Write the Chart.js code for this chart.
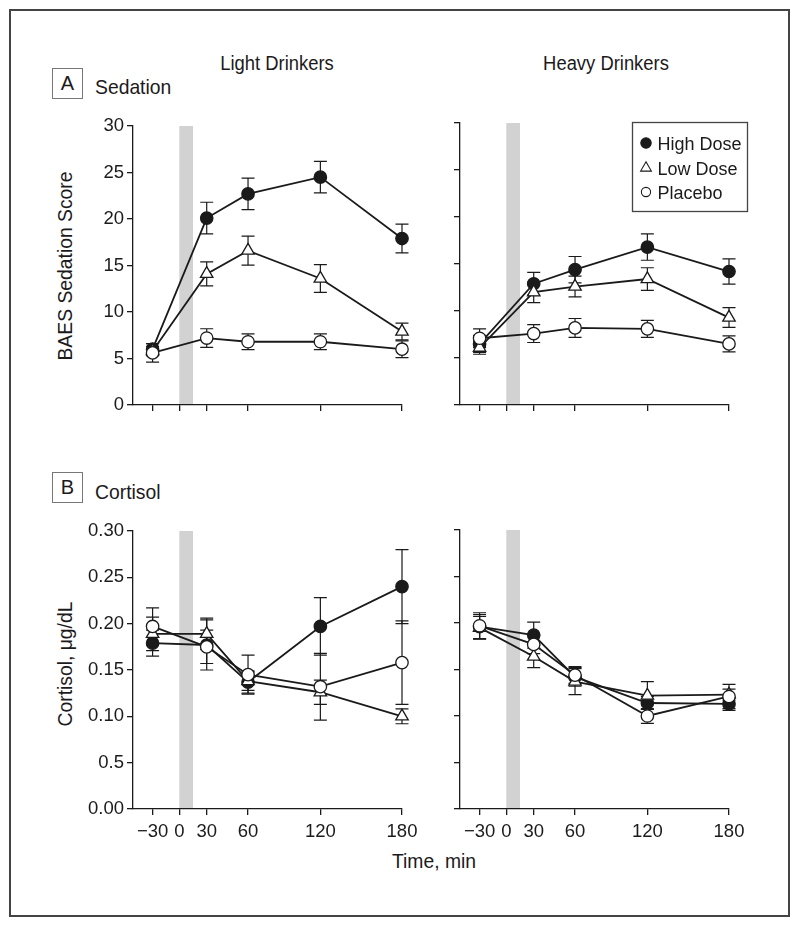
<!DOCTYPE html>
<html>
<head>
<meta charset="utf-8">
<script src="https://cdn.jsdelivr.net/npm/chart.js@4.4.1/dist/chart.umd.min.js"></script>
<style>
  body { margin: 0; background: #fff; width: 800px; height: 927px; position: relative; overflow: hidden;
         font-family: 'Liberation Sans', Arial, sans-serif; color: #1c1a1b; }
  .frame { position: absolute; left: 9px; top: 9px; width: 781px; height: 908px; border: 2px solid #444; box-sizing: border-box; }
  canvas { position: absolute; }
  .lbl { position: absolute; white-space: nowrap; line-height: 1; transform: translate(-50%, -50%) scaleX(0.92); }
  .lbl.left { transform-origin: 0 50%; transform: translate(0, -50%) scaleX(0.92); }
  .lbl.vert { transform: translate(-50%, -50%) rotate(-90deg) scaleX(0.92); }
  .tag { position: absolute; width: 31px; height: 31px; border: 1px solid #777; box-sizing: border-box;
         font-size: 20px; line-height: 29px; text-align: center; }
</style>
</head>
<body>
<div class="frame"></div>

<div class="lbl" style="left:277px;top:63px;font-size:20px">Light Drinkers</div>
<div class="lbl" style="left:606px;top:63px;font-size:20px">Heavy Drinkers</div>
<div class="tag" style="left:52px;top:68px">A</div>
<div class="lbl left" style="left:95px;top:86px;font-size:21px">Sedation</div>
<div class="tag" style="left:52px;top:472px">B</div>
<div class="lbl left" style="left:95px;top:491px;font-size:21px">Cortisol</div>
<div class="lbl vert" style="left:64px;top:266px;font-size:21px">BAES Sedation Score</div>
<div class="lbl vert" style="left:64px;top:664px;font-size:21px">Cortisol, μg/dL</div>
<div class="lbl" style="left:434px;top:860px;font-size:21px">Time, min</div>

<canvas id="sedLight" width="344" height="339" style="left:88px;top:111px"></canvas>
<canvas id="sedHeavy" width="344" height="342" style="left:415px;top:108px"></canvas>
<canvas id="cortLight" width="344" height="338" style="left:88px;top:516px"></canvas>
<canvas id="cortHeavy" width="344" height="339" style="left:415px;top:515px"></canvas>

<script>
// time points (min) and axis ticks
const times = [-30, 30, 60, 120, 180];
const timeTicks = [-30, 0, 30, 60, 120, 180];
const timeTickLabels = ['\u221230', '0', '30', '60', '120', '180'];
const drinkWindow = [0, 15];

const sedTicks = [0, 5, 10, 15, 20, 25, 30];
const sedTickLabels = ['0', '5', '10', '15', '20', '25', '30'];
const cortTicks = [0, 0.05, 0.10, 0.15, 0.20, 0.25, 0.30];
const cortTickLabels = ['0.00', '0.5', '0.10', '0.15', '0.20', '0.25', '0.30'];

const seriesNames = ['High Dose', 'Low Dose', 'Placebo'];

// A, sedation - light drinkers
const sedLightHigh = [6.0, 20.1, 22.7, 24.5, 17.9];
const sedLightHighErr = [0.6, 1.7, 1.7, 1.7, 1.55];
const sedLightLow = [5.8, 14.1, 16.6, 13.6, 7.9];
const sedLightLowErr = [0.5, 1.3, 1.55, 1.5, 0.9];
const sedLightPlacebo = [5.6, 7.2, 6.8, 6.8, 6.0];
const sedLightPlaceboErr = [1.0, 1.0, 0.85, 0.85, 0.9];

// A, sedation - heavy drinkers
const sedHeavyHigh = [6.5, 12.9, 14.4, 16.8, 14.2];
const sedHeavyHighErr = [0.9, 1.2, 1.4, 1.4, 1.35];
const sedHeavyLow = [6.1, 12.0, 12.6, 13.4, 9.3];
const sedHeavyLowErr = [0.7, 1.1, 1.1, 1.2, 1.05];
const sedHeavyPlacebo = [7.1, 7.6, 8.2, 8.1, 6.5];
const sedHeavyPlaceboErr = [1.0, 0.95, 1.0, 0.9, 0.85];

// B, cortisol - light drinkers
const cortLightHigh = [0.179, 0.177, 0.137, 0.197, 0.240];
const cortLightHighErr = [0.014, 0.027, 0.012, 0.031, 0.040];
const cortLightLow = [0.189, 0.189, 0.138, 0.126, 0.100];
const cortLightLowErr = [0.018, 0.017, 0.010, 0.013, 0.008];
const cortLightPlacebo = [0.197, 0.175, 0.145, 0.132, 0.158];
const cortLightPlaceboErr = [0.020, 0.018, 0.021, 0.036, 0.045];

// B, cortisol - heavy drinkers
const cortHeavyHigh = [0.196, 0.187, 0.142, 0.114, 0.113];
const cortHeavyHighErr = [0.013, 0.014, 0.010, 0.007, 0.007];
const cortHeavyLow = [0.195, 0.164, 0.137, 0.122, 0.123];
const cortHeavyLowErr = [0.012, 0.012, 0.014, 0.015, 0.006];
const cortHeavyPlacebo = [0.197, 0.177, 0.144, 0.100, 0.121];
const cortHeavyPlaceboErr = [0.014, 0.010, 0.009, 0.008, 0.013];

const ink = '#1a1a1a';
const fontFamily = "'Liberation Sans', Arial, sans-serif";
Chart.defaults.font.family = fontFamily;
Chart.defaults.color = '#1c1a1b';

// the printed time axis is not proportional to minutes
const axisStops = [-30, 0, 30, 60, 120, 180];
const axisStopPos = [0, 1, 2.026, 3.573, 6.281, 9.337];

function warpTime(t) {
  const n = axisStops.length - 1;
  let i = 1;
  while (i < n && t > axisStops[i]) i++;
  const a = axisStops[i - 1], b = axisStops[i];
  return axisStopPos[i - 1] + (t - a) * (axisStopPos[i] - axisStopPos[i - 1]) / (b - a);
}
function unwarpTime(u) {
  const n = axisStops.length - 1;
  let i = 1;
  while (i < n && u > axisStopPos[i]) i++;
  const a = axisStopPos[i - 1], b = axisStopPos[i];
  return axisStops[i - 1] + (u - a) * (axisStops[i] - axisStops[i - 1]) / (b - a);
}

class TimeWarpScale extends Chart.LinearScale {
  static id = 'timewarp';
  static defaults = Chart.LinearScale.defaults;
  getPixelForValue(value) {
    const a = warpTime(this.min), b = warpTime(this.max);
    return this.getPixelForDecimal((warpTime(value) - a) / (b - a));
  }
  getValueForPixel(pixel) {
    const a = warpTime(this.min), b = warpTime(this.max);
    return unwarpTime(a + this.getDecimalForPixel(pixel) * (b - a));
  }
}
Chart.register(TimeWarpScale);

const styles = {
  'High Dose': { pointStyle: 'circle', pointRadius: 6.2, pointBackgroundColor: ink },
  'Low Dose': { pointStyle: 'triangle', pointRadius: 7.2, pointBackgroundColor: '#fff' },
  'Placebo': { pointStyle: 'circle', pointRadius: 6.2, pointBackgroundColor: '#fff' }
};

function series(label, values, errs) {
  return Object.assign({
    label: label,
    data: times.map((t, i) => ({ x: t, y: values[i] })),
    errors: errs,
    borderColor: ink,
    borderWidth: 1.8,
    pointBorderColor: ink,
    pointBorderWidth: 1.3,
    fill: false,
    tension: 0,
    clip: false
  }, styles[label], { pointHoverRadius: styles[label].pointRadius });
}

// shaded drinking window + error bars
const errorBars = {
  id: 'errorBars',
  beforeDraw(chart) {
    const { ctx, chartArea, scales } = chart;
    const x0 = scales.x.getPixelForValue(drinkWindow[0]);
    const x1 = scales.x.getPixelForValue(drinkWindow[1]);
    ctx.save();
    ctx.fillStyle = '#d2d2d2';
    ctx.fillRect(x0, chartArea.top, x1 - x0, chartArea.bottom - chartArea.top);
    ctx.restore();
  },
  beforeDatasetsDraw(chart) {
    const { ctx, scales } = chart;
    ctx.save();
    ctx.strokeStyle = ink;
    ctx.lineWidth = 1.2;
    chart.data.datasets.forEach(ds => {
      ds.data.forEach((p, i) => {
        const e = ds.errors[i];
        const px = scales.x.getPixelForValue(p.x);
        const top = scales.y.getPixelForValue(p.y + e);
        const bot = scales.y.getPixelForValue(p.y - e);
        ctx.beginPath();
        ctx.moveTo(px, top); ctx.lineTo(px, bot);
        ctx.moveTo(px - 6.5, top); ctx.lineTo(px + 6.5, top);
        ctx.moveTo(px - 6.5, bot); ctx.lineTo(px + 6.5, bot);
        ctx.stroke();
      });
    });
    ctx.restore();
  }
};

function marker(ctx, style, r, x, y) {
  ctx.beginPath();
  if (style === 'triangle') {
    ctx.moveTo(x, y - r);
    ctx.lineTo(x + r * 0.866, y + r * 0.5);
    ctx.lineTo(x - r * 0.866, y + r * 0.5);
    ctx.closePath();
  } else {
    ctx.arc(x, y, r, 0, Math.PI * 2);
  }
  ctx.fill();
  ctx.stroke();
}

// boxed legend in the top right panel
const legendBox = {
  id: 'legendBox',
  afterDraw(chart, args, opts) {
    if (!opts.show) return;
    const { ctx, chartArea } = chart;
    const bx = chartArea.left + 172.5, by = chartArea.top - 0.5, bw = 115, bh = 89;
    const rows = [20.5, 45.5, 69.5];
    const radii = [5.2, 6.2, 4.6];
    ctx.save();
    ctx.fillStyle = '#fff';
    ctx.fillRect(bx, by, bw, bh);
    ctx.strokeStyle = '#444';
    ctx.lineWidth = 1.3;
    ctx.strokeRect(bx, by, bw, bh);
    seriesNames.forEach((name, i) => {
      const st = styles[name];
      ctx.fillStyle = st.pointBackgroundColor;
      ctx.strokeStyle = ink;
      ctx.lineWidth = 1.1;
      marker(ctx, st.pointStyle, radii[i], bx + 13.5, by + rows[i]);
      ctx.fillStyle = '#1c1a1b';
      ctx.font = '18px ' + fontFamily;
      ctx.textBaseline = 'alphabetic';
      ctx.fillText(name, bx + 25, by + rows[i] + 6.5);
    });
    ctx.restore();
  }
};

function panel(id, sets, yMax, yTicks, yLabels, opts) {
  const tickFont = { family: fontFamily, size: 18.5 };
  const axisLine = { display: true, color: ink, width: 1.3 };
  const tickMarks = { drawOnChartArea: false, drawTicks: true, tickLength: 6, color: ink, lineWidth: 1.3 };
  return new Chart(document.getElementById(id), {
    type: 'line',
    data: { datasets: sets },
    options: {
      responsive: false,
      animation: false,
      events: [],
      layout: { padding: { top: 15, right: 30, left: 0, bottom: 0 } },
      plugins: {
        legend: { display: false },
        tooltip: { enabled: false },
        legendBox: { show: !!opts.legend }
      },
      scales: {
        x: {
          type: 'timewarp',
          min: -52,
          max: 180,
          afterBuildTicks: s => { s.ticks = timeTicks.map(v => ({ value: v })); },
          afterFit: s => { s.height = 45; },
          ticks: {
            autoSkip: false, maxRotation: 0, minRotation: 0, padding: 6, font: tickFont,
            callback: (v, i) => opts.xLabels ? timeTickLabels[i] : ''
          },
          grid: tickMarks,
          border: axisLine
        },
        y: {
          type: 'linear',
          min: 0,
          max: yMax,
          afterBuildTicks: s => { s.ticks = yTicks.map(v => ({ value: v })); },
          afterFit: s => { s.width = 45; },
          ticks: {
            padding: 3, font: tickFont,
            callback: (v, i) => opts.yLabels ? yLabels[i] : ''
          },
          grid: tickMarks,
          border: axisLine
        }
      }
    },
    plugins: [errorBars, legendBox]
  });
}

panel('sedLight', [
  series('Placebo', sedLightPlacebo, sedLightPlaceboErr),
  series('Low Dose', sedLightLow, sedLightLowErr),
  series('High Dose', sedLightHigh, sedLightHighErr)
], 30, sedTicks, sedTickLabels, { yLabels: true });

panel('sedHeavy', [
  series('Placebo', sedHeavyPlacebo, sedHeavyPlaceboErr),
  series('Low Dose', sedHeavyLow, sedHeavyLowErr),
  series('High Dose', sedHeavyHigh, sedHeavyHighErr)
], 30, sedTicks, sedTickLabels, { legend: true });

panel('cortLight', [
  series('Placebo', cortLightPlacebo, cortLightPlaceboErr),
  series('Low Dose', cortLightLow, cortLightLowErr),
  series('High Dose', cortLightHigh, cortLightHighErr)
], 0.30, cortTicks, cortTickLabels, { yLabels: true, xLabels: true });

panel('cortHeavy', [
  series('Placebo', cortHeavyPlacebo, cortHeavyPlaceboErr),
  series('Low Dose', cortHeavyLow, cortHeavyLowErr),
  series('High Dose', cortHeavyHigh, cortHeavyHighErr)
], 0.30, cortTicks, cortTickLabels, { xLabels: true });
</script>
</body>
</html>
